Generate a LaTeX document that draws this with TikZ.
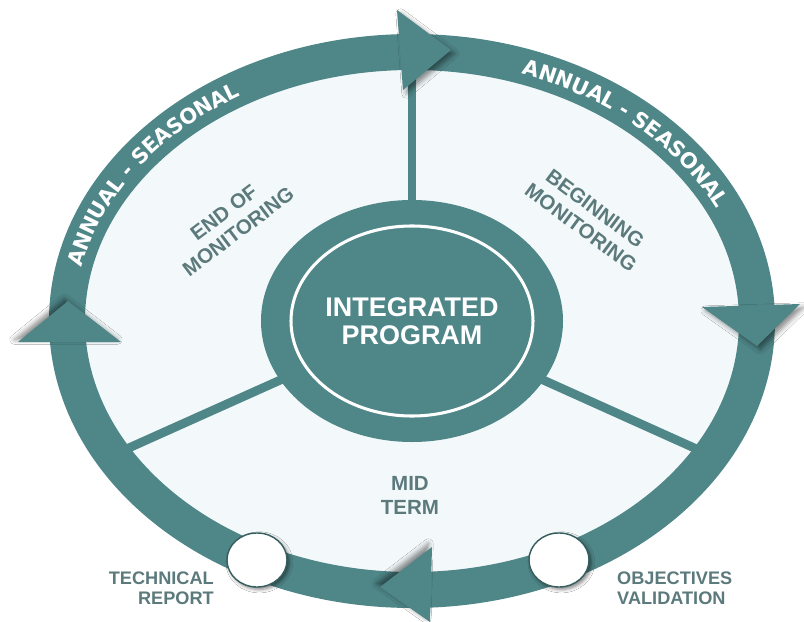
\documentclass[tikz,border=0pt]{standalone}
\usepackage{fontspec}
\setmainfont{Liberation Sans}
\newfontfamily\ringfont{DejaVu Sans}
\usetikzlibrary{shapes.geometric,decorations.text,shadows.blur}
\definecolor{ringteal}{RGB}{79,134,136}
\definecolor{labelgray}{RGB}{92,122,124}
\definecolor{paleblue}{RGB}{243,249,251}

\begin{document}
\begin{tikzpicture}
[x=0.03cm,y=-0.03cm,
 band/.style={draw=ringteal,line width=30.7pt},
 spoke/.style={draw=ringteal,line width=7.5pt,shorten <=-4pt},
 prog/.style={ellipse,fill=ringteal,text=white,minimum width=9.06cm,minimum height=7.26cm,inner sep=0pt,align=center,font=\fontsize{23}{24}\selectfont\bfseries},
 head/.style={fill=ringteal},
 dot/.style={ellipse,draw=ringteal!70!black,line width=1.2pt,fill=white,minimum width=1.8cm,minimum height=1.62cm,inner sep=0pt,blur shadow={shadow xshift=2pt,shadow yshift=-2pt,shadow opacity=50,shadow blur radius=3pt}},
 lbl/.style={text=labelgray,inner sep=0pt,font=\fontsize{15.5}{17}\selectfont\bfseries},
 stage/.style={text=labelgray,inner sep=0pt,align=center,font=\fontsize{17.5}{20.5}\selectfont\bfseries},
 annual/.style={decorate,decoration={text along path,text align=center,raise=-6.6pt,text color=white,
   text={|\ringfont\bfseries\fontsize{18}{18}\selectfont|ANNUAL - SEASONAL}}}]
\useasboundingbox (0,0) rectangle (804,622);
\fill[white] (0,0) rectangle (804,622);
\coordinate (c) at (412,321);
\coordinate (rt) at (412,52);
\coordinate (rl) at (112,455.5);
\coordinate (rr) at (711,455.5);
\fill[paleblue] (c) ellipse [x radius=345,y radius=269];
% center
\node[prog] (prog) at (c) {INTEGRATED\\PROGRAM};
\foreach \to in {rt,rl,rr}
\draw[spoke] (prog) -- (\to);
% ring
\draw[band] (c) ellipse [x radius=345,y radius=269];
\draw[white,line width=2.6pt] (prog.center) ellipse [x radius=121,y radius=95];
% arrow heads
\fill[head,blur shadow={shadow xshift=3pt,shadow yshift=-3pt,shadow opacity=45,shadow blur radius=4pt}] (397,10) -- (451,50) -- (403,90) -- cycle;
\fill[head,blur shadow={shadow xshift=3pt,shadow yshift=-3pt,shadow opacity=45,shadow blur radius=4pt}] (702,307) -- (800,304) -- (757,346) -- cycle;
\fill[head,blur shadow={shadow xshift=-3pt,shadow yshift=3pt,shadow opacity=45,shadow blur radius=4pt}] (432,547) -- (380,587) -- (430,622) -- cycle;
\fill[head,blur shadow={shadow xshift=-3pt,shadow yshift=2pt,shadow opacity=45,shadow blur radius=4pt}] (18,342) -- (68,301) -- (121,342) -- cycle;
% ring text
\path[annual] (c) ++(-171:345 and 269) arc [start angle=-171,end angle=-118,x radius=345,y radius=269];
\path[annual] (c) ++(-74:345 and 269) arc [start angle=-74,end angle=-22,x radius=345,y radius=269];
% milestones
\node[dot] (techc) at (257,560) {};
\node[dot] (objc) at (559,560) {};
\node[lbl,anchor=north east,align=right] (tech) at (214,572) {TECHNICAL\\REPORT};
\node[lbl,anchor=north west,align=left] (obj) at (617,572) {OBJECTIVES\\VALIDATION};
% stages
\node[stage,rotate=37] (endmon) at (231,222) {END OF\\MONITORING};
\node[stage,rotate=-36.5] (begmon) at (588,218) {BEGINNING\\MONITORING};
\node[stage] (mid) at (410,495.5) {MID\\TERM};
\end{tikzpicture}
\end{document}
